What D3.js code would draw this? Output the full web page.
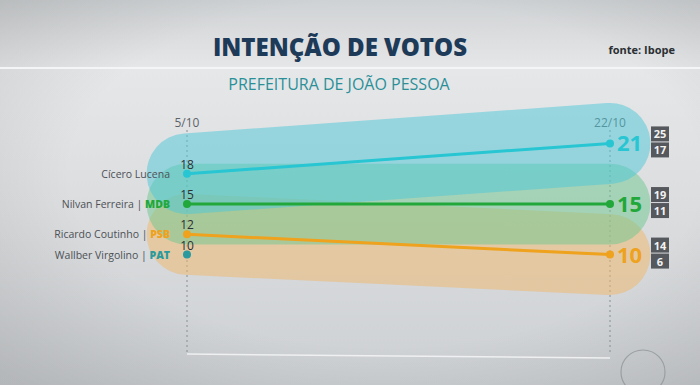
<!DOCTYPE html>
<html lang="pt">
  <head>
    <meta charset="UTF-8">
    <title>Intenção de votos</title>
    <style>
    * { box-sizing: border-box; margin: 0; padding: 0; }
    body { background: #d6d8da; overflow: hidden; }
    svg { display: block; font-family: "Open Sans", "Noto Sans", sans-serif; }
    </style>
  </head>
  <body>
    <svg width="700" height="385"></svg>
    <script src="https://d3js.org/d3.v7.min.js"></script>
    <script>
      // dados
      const dates = ["5/10", "22/10"];
      const candidates = ["Cícero Lucena", "Nilvan Ferreira", "Ricardo Coutinho", "Wallber Virgolino"];
      const parties = ["", "MDB", "PSB", "PAT"];
      const poll1 = [18, 15, 12, 10];
      const poll2 = [21, 15, 10, null];
      const upper1 = [22, 19, 16, null];
      const lower1 = [14, 11, 8, null];
      const upper2 = [25, 19, 14, null];
      const lower2 = [17, 11, 6, null];
      const lineColors = ["#27c6d2", "#22a83a", "#eea21e", "#2a9a9e"];
      const bandColors = ["#4cc8d8", "#6cc890", "#f0b86a", null];

      const svg = d3.select("svg");
      const W = 700, H = 385;

      // fundo
      const defs = svg.append("defs");
      const bg = defs.append("linearGradient").attr("id", "bg").attr("x1", 0).attr("x2", 0).attr("y1", 0).attr("y2", 1);
      bg.append("stop").attr("offset", "0%").attr("stop-color", "#cfd2d4");
      bg.append("stop").attr("offset", "18%").attr("stop-color", "#e6e7e9");
      bg.append("stop").attr("offset", "60%").attr("stop-color", "#d9dbdd");
      bg.append("stop").attr("offset", "100%").attr("stop-color", "#cdd0d3");
      svg.append("rect").attr("width", W).attr("height", H).attr("fill", "url(#bg)");
      const vg = defs.append("radialGradient").attr("id", "vg").attr("cx", "55%").attr("cy", "45%").attr("r", "75%");
      vg.append("stop").attr("offset", "60%").attr("stop-color", "#000").attr("stop-opacity", 0);
      vg.append("stop").attr("offset", "100%").attr("stop-color", "#000").attr("stop-opacity", 0.12);
      svg.append("rect").attr("width", W).attr("height", H).attr("fill", "url(#vg)");

      svg.append("line").attr("x1", 0).attr("x2", W).attr("y1", 68).attr("y2", 68)
        .attr("stroke", "#f4f5f6").attr("stroke-width", 2);

      // títulos
      svg.append("text").attr("x", 340).attr("y", 56).attr("text-anchor", "middle")
        .attr("font-size", 24).attr("font-weight", 800).attr("fill", "#1d3a58")
        .text("INTENÇÃO DE VOTOS");
      svg.append("text").attr("x", 675).attr("y", 54).attr("text-anchor", "end")
        .attr("font-size", 11).attr("font-weight", 700).attr("fill", "#2b2f33")
        .text("fonte: Ibope");
      svg.append("text").attr("x", 339).attr("y", 90).attr("text-anchor", "middle")
        .attr("font-size", 16).attr("fill", "#2a9098")
        .text("PREFEITURA DE JOÃO PESSOA");

      // escalas
      const x = d3.scalePoint().domain(dates).range([187, 610]);
      const y = d3.scaleLinear().domain([6, 25]).range([295, 103]);

      // linhas pontilhadas e base
      dates.forEach(d => {
        svg.append("line").attr("x1", x(d)).attr("x2", x(d)).attr("y1", 130).attr("y2", 354)
          .attr("stroke", "#8a8e92").attr("stroke-width", 1).attr("stroke-dasharray", "2,3");
        svg.append("text").attr("x", x(d)).attr("y", 127).attr("text-anchor", "middle")
          .attr("font-size", 12).attr("fill", "#5d6368").text(d);
      });
      svg.append("line").attr("x1", x(dates[0])).attr("x2", x(dates[1])).attr("y1", 354).attr("y2", 358)
        .attr("stroke", "#eef0f1").attr("stroke-width", 1.5);

      // faixas de margem de erro (de baixo para cima)
      const bands = svg.append("g").attr("class", "bands");
      candidates.slice().reverse().forEach(c => {
        const i = candidates.indexOf(c);
        if (poll2[i] == null) return;
        const m1 = (upper1[i] + lower1[i]) / 2, m2 = (upper2[i] + lower2[i]) / 2;
        bands.append("path")
          .attr("d", d3.line()([[x(dates[0]), y(m1)], [x(dates[1]), y(m2)]]))
          .attr("stroke", bandColors[i]).attr("stroke-opacity", 0.5)
          .attr("stroke-width", y(lower2[i]) - y(upper2[i]))
          .attr("stroke-linecap", "round").attr("fill", "none");
      });

      // linhas
      candidates.forEach((c, i) => {
        const col = lineColors[i];
        if (poll2[i] != null) {
          svg.append("path")
            .attr("d", d3.line()([[x(dates[0]), y(poll1[i])], [x(dates[1]), y(poll2[i])]]))
            .attr("stroke", col).attr("stroke-width", 3).attr("fill", "none");
          svg.append("circle").attr("cx", x(dates[1])).attr("cy", y(poll2[i])).attr("r", 4).attr("fill", col);
          svg.append("text").attr("x", x(dates[1]) + 7).attr("y", y(poll2[i]) + 8)
            .attr("font-size", 22).attr("font-weight", 700).attr("fill", col).text(poll2[i]);

          // caixas de margem
          [[upper2[i], -17], [lower2[i], -1]].forEach(([v, dy]) => {
            const by = y(poll2[i]) + dy;
            svg.append("rect").attr("x", 651).attr("y", by).attr("width", 18).attr("height", 15).attr("fill", "#55585c");
            svg.append("text").attr("x", 660).attr("y", by + 12).attr("text-anchor", "middle")
              .attr("font-size", 11).attr("font-weight", 700).attr("fill", "#f2f2f2").text(v);
          });
        }
        svg.append("circle").attr("cx", x(dates[0])).attr("cy", y(poll1[i])).attr("r", 4).attr("fill", col);
        svg.append("text").attr("x", x(dates[0])).attr("y", y(poll1[i]) - 5).attr("text-anchor", "middle")
          .attr("font-size", 12).attr("fill", "#2c3034").text(poll1[i]);

        const t = svg.append("text").attr("x", 170).attr("y", y(poll1[i]) + 4).attr("text-anchor", "end")
          .attr("font-size", 10.5).attr("fill", "#4c5156");
        t.append("tspan").text(c + (parties[i] ? " | " : ""));
        if (parties[i]) {
          t.append("tspan").attr("font-weight", 800).attr("fill", lineColors[i]).text(parties[i]);
        }
      });

      // logotipo
      svg.append("circle").attr("cx", 643).attr("cy", 372).attr("r", 22)
        .attr("fill", "none").attr("stroke", "#9a9ea2").attr("stroke-width", 1.2);
    </script>
  </body>
</html>
